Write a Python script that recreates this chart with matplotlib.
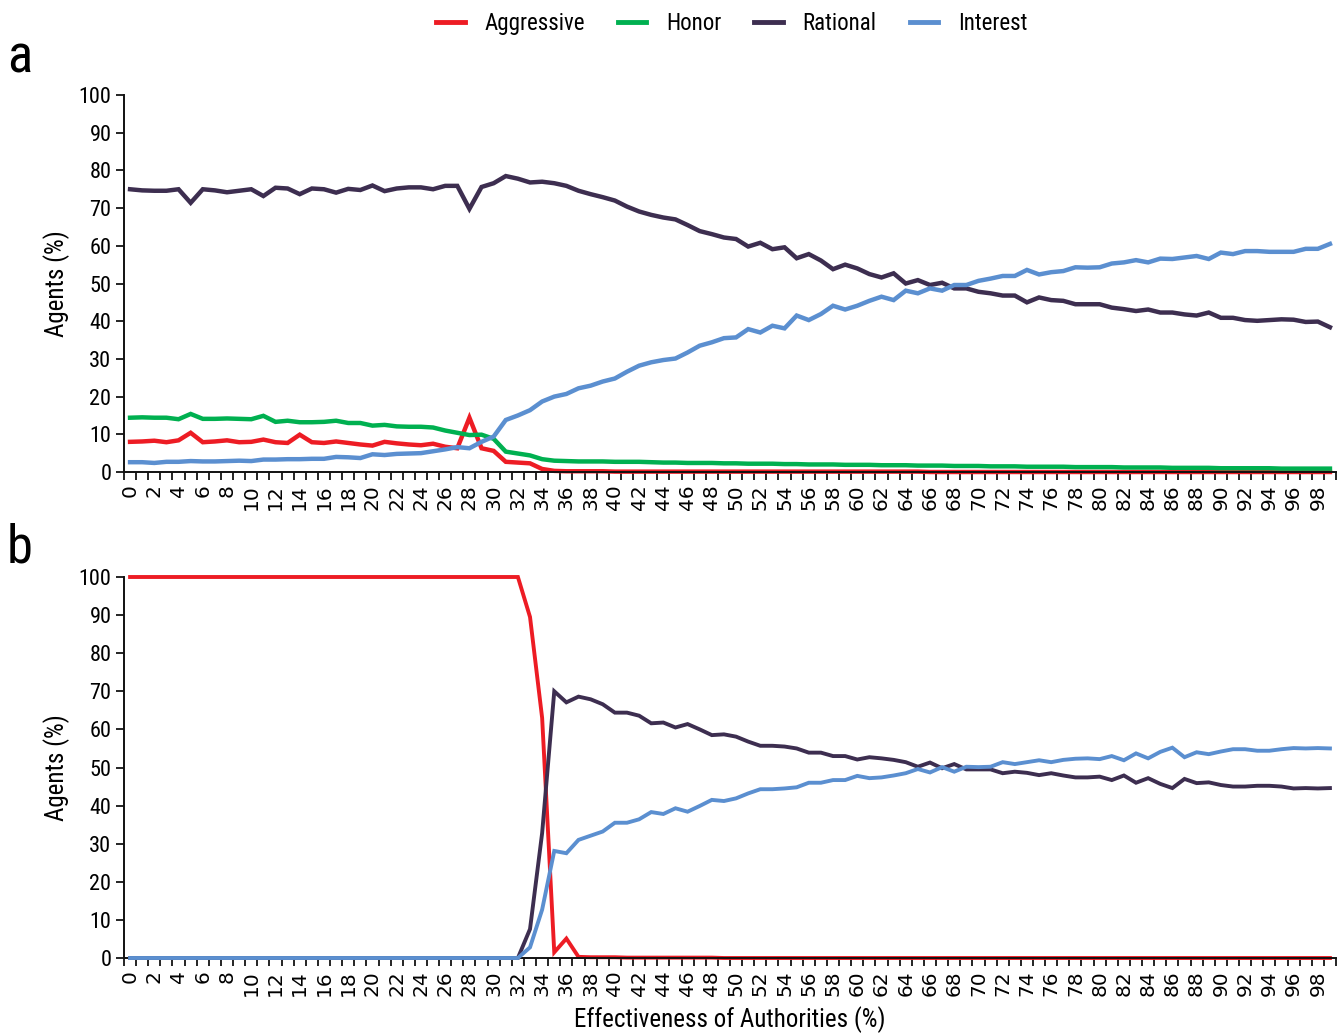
import numpy as np
import matplotlib
matplotlib.use("Agg")
import matplotlib.pyplot as plt
from matplotlib import font_manager as fm
from matplotlib.lines import Line2D
import os

# ---------------- data ----------------
effectiveness = list(range(100))
tick_labels = [str(v) for v in range(0, 100, 2)]
series_names = ["Aggressive", "Honor", "Rational", "Interest"]

a_aggressive = [8.0, 8.1, 8.3, 7.9, 8.4, 10.4, 7.9, 8.1, 8.4, 7.9,
                8.0, 8.6, 7.9, 7.7, 9.9, 7.9, 7.7, 8.1, 7.7, 7.3,
                7.0, 8.0, 7.6, 7.3, 7.1, 7.5, 6.7, 6.3, 14.4, 6.3,
                5.6, 2.7, 2.5, 2.3, 0.8, 0.3, 0.2, 0.2, 0.2, 0.2,
                0.1, 0.1, 0.1, 0.1, 0.1, 0.1, 0.1, 0.1, 0.1, 0.1,
                0.1, 0.1, 0.1, 0.1, 0.1, 0.1, 0.1, 0.1, 0.1, 0.1,
                0.1, 0.1, 0.1, 0.1, 0.1, 0.1, 0.0, 0.0, 0.0, 0.0,
                0.0, 0.0, 0.0, 0.0, 0.0, 0.0, 0.0, 0.0, 0.0, 0.0,
                0.0, 0.0, 0.0, 0.0, 0.0, 0.0, 0.0, 0.0, 0.0, 0.0,
                0.0, 0.0, 0.0, 0.0, 0.0, 0.0, 0.0, 0.0, 0.0, 0.0]
a_honor = [14.4, 14.5, 14.4, 14.4, 14.0, 15.4, 14.1, 14.1, 14.2, 14.1,
           14.0, 14.9, 13.3, 13.6, 13.2, 13.2, 13.3, 13.6, 13.0, 13.0,
           12.3, 12.5, 12.1, 12.0, 12.0, 11.8, 11.0, 10.4, 9.8, 9.9,
           8.8, 5.4, 4.9, 4.4,
           3.4, 3.0, 2.9, 2.8, 2.8, 2.8, 2.7, 2.7, 2.7, 2.6,
           2.5, 2.5, 2.4, 2.4, 2.4, 2.3, 2.3, 2.2, 2.2, 2.2,
           2.1, 2.1, 2.0, 2.0, 2.0, 1.9, 1.9, 1.9, 1.8, 1.8,
           1.8, 1.7, 1.7, 1.7, 1.6, 1.6, 1.6, 1.5, 1.5, 1.5,
           1.4, 1.4, 1.4, 1.4, 1.3, 1.3, 1.3, 1.3, 1.2, 1.2,
           1.2, 1.2, 1.1, 1.1, 1.1, 1.1, 1.0, 1.0, 1.0, 1.0,
           1.0, 0.9, 0.9, 0.9, 0.9, 0.9]
a_rational = [75.0, 74.7, 74.6, 74.6, 75.0, 71.4, 75.0, 74.7, 74.2, 74.6,
              75.0, 73.2, 75.4, 75.2, 73.7, 75.2, 75.0, 74.1, 75.1, 74.8,
              76.0, 74.5, 75.2, 75.5, 75.5, 75.0, 75.9, 75.9, 69.8, 75.6,
              76.6, 78.5, 77.8, 76.8,
              77.0, 76.6, 75.9, 74.6, 73.7, 72.9, 72.0, 70.4, 69.1, 68.2,
              67.5, 67.0, 65.5, 63.9, 63.1, 62.2, 61.8, 59.8, 60.8, 59.1,
              59.6, 56.7, 57.8, 56.1, 53.8, 55.0, 54.0, 52.5, 51.6, 52.7,
              50.0, 50.9, 49.6,
              50.2, 48.7, 48.7, 47.8, 47.4, 46.8, 46.8, 45.0, 46.3, 45.6,
              45.4, 44.5, 44.5, 44.5, 43.6, 43.2, 42.7, 43.1, 42.3, 42.3,
              41.8, 41.5, 42.3, 40.9, 40.9, 40.3, 40.1, 40.3, 40.5, 40.4,
              39.8, 39.9, 38.4]
a_interest = [2.6, 2.6, 2.4, 2.7, 2.7, 2.9, 2.8, 2.8, 2.9, 3.0,
              2.9, 3.3, 3.3, 3.4, 3.4, 3.5, 3.5, 4.0, 3.9, 3.7,
              4.7, 4.5, 4.8, 4.9, 5.0, 5.5, 6.0, 6.6, 6.3, 8.0,
              9.4, 13.8, 15.0, 16.4,
              18.7, 20.0, 20.7, 22.2, 22.9, 24.0, 24.8, 26.6, 28.2, 29.1,
              29.7, 30.1, 31.7, 33.5, 34.4, 35.5, 35.7, 37.9, 37.0, 38.8,
              38.1, 41.5, 40.3, 41.9, 44.1, 43.1, 44.1, 45.4, 46.5, 45.6,
              48.1, 47.4, 48.7,
              48.1, 49.6, 49.6, 50.7, 51.3, 52.0, 52.0, 53.6, 52.4, 53.0,
              53.3, 54.3, 54.2, 54.3, 55.3, 55.6, 56.2, 55.6, 56.6, 56.5,
              56.9, 57.3, 56.5, 58.2, 57.8, 58.6, 58.6, 58.4, 58.4, 58.4,
              59.2, 59.2, 60.5]

# panel b: no Honor agents are present (series not drawn)
b_aggressive = ([100.0] * 33
                + [89.5, 63.0, 1.5, 5.1, 0.3, 0.2, 0.2, 0.2]
                + [0.1] * 8
                + [0.0] * 51)
b_rational = [0.0] * 33 + [7.6, 32.8, 70.0, 67.1, 68.6, 67.9, 66.6, 64.4, 64.4, 63.6,
              61.6, 61.8, 60.5, 61.4, 60.0, 58.5, 58.7, 58.1, 56.8, 55.7,
              55.7, 55.5, 55.0, 53.9, 53.9, 53.0, 53.0, 52.1, 52.7, 52.4,
              52.0, 51.4, 50.2, 51.3,
              49.8, 50.9, 49.5, 49.5, 49.5, 48.5, 48.9, 48.6, 48.0, 48.5,
              47.9, 47.4, 47.4, 47.6, 46.7, 47.9, 46.0, 47.2, 45.7, 44.6,
              47.0, 45.9, 46.1, 45.4, 45.0, 45.0, 45.2, 45.2, 45.0, 44.5,
              44.6, 44.5, 44.6]
b_interest = [0.0] * 33 + [2.8, 12.7, 28.1, 27.5, 31.0, 32.1, 33.2, 35.5, 35.5, 36.4,
              38.3, 37.8, 39.3, 38.4, 39.9, 41.5, 41.2, 41.9, 43.2, 44.3,
              44.3, 44.5, 44.8, 46.0, 46.0, 46.7, 46.7, 47.8, 47.2, 47.4,
              47.9, 48.5, 49.6, 48.7,
              50.1, 48.9, 50.2, 50.1, 50.2, 51.4, 50.9, 51.4, 51.9, 51.4,
              52.0, 52.3, 52.4, 52.2, 53.0, 51.9, 53.7, 52.4, 54.1, 55.2,
              52.7, 54.0, 53.5, 54.2, 54.8, 54.8, 54.4, 54.4, 54.8, 55.1,
              55.0, 55.1, 55.0]

colors = {"Aggressive": "#ED1C24", "Honor": "#00B050",
          "Rational": "#3D2E50", "Interest": "#5B8FD0"}

# ---------------- fonts ----------------
cond_file = None
prefs = ["liberationsansnarrow-regular", "robotocondensed-regular",
         "opensans-condensedregular", "opensans_condensed-regular",
         "dejavusanscondensed.", "arialnarrow"]
files = [f.fname for f in fm.fontManager.ttflist]
for p in prefs:
    for fn in files:
        if p in os.path.basename(fn).lower().replace(" ", ""):
            cond_file = fn
            break
    if cond_file:
        break
if cond_file is None:
    import glob
    cands = []
    for pat in ["/usr/share/fonts/**/*Narrow*.ttf", "/usr/share/fonts/**/*Condensed*.ttf",
                "/usr/share/fonts/**/*Condensed*.otf"]:
        cands += sorted(glob.glob(pat, recursive=True))
    cands = [c for c in cands if "Bold" not in c and "Italic" not in c
             and "Oblique" not in c and "Light" not in c and "Semi" not in c
             and "Extra" not in c and "Medium" not in c and "Black" not in c
             and "Thin" not in c]
    if cands:
        cond_file = cands[0]


def fp(size):
    if cond_file:
        return fm.FontProperties(fname=cond_file, size=size)
    return fm.FontProperties(family="Roboto", size=size)


# ---------------- figure ----------------
W, H = 1340, 1033
fig = plt.figure(figsize=(W / 100, H / 100), dpi=100)

ax_a = fig.add_axes([124 / W, 1 - 472 / H, 1212 / W, 377 / H])
ax_b = fig.add_axes([124 / W, 1 - 958 / H, 1212 / W, 381 / H])

panels = [
    (ax_a, {"Aggressive": a_aggressive, "Honor": a_honor,
            "Rational": a_rational, "Interest": a_interest}, 3.2, "a", 58),
    (ax_b, {"Aggressive": b_aggressive,
            "Rational": b_rational, "Interest": b_interest}, 2.8, "b", 548),
]

for ax, data, lw, letter, ly in panels:
    for k, name in enumerate(series_names):
        if name not in data:
            continue
        ax.plot(effectiveness, data[name], color=colors[name], lw=lw,
                solid_joinstyle="miter", clip_on=False, zorder=2 + k)
    ax.set_xlim(-0.5, 99.5)
    ax.set_ylim(0, 100)
    for s in ["top", "right"]:
        ax.spines[s].set_visible(False)
    for s in ["left", "bottom"]:
        ax.spines[s].set_linewidth(1.4)
        ax.spines[s].set_color("#111111")
    ax.set_yticks(range(0, 101, 10))
    ax.set_yticklabels([str(v) for v in range(0, 101, 10)], fontproperties=fp(16))
    ax.tick_params(axis="y", direction="out", length=6, width=1.2, pad=3)
    ax.set_xticks(range(0, 100, 2))
    ax.set_xticklabels(tick_labels, rotation=90, family="DejaVu Sans", fontsize=14.5)
    ax.set_xticks(np.arange(-0.5, 100, 1.0), minor=True)
    ax.tick_params(axis="x", which="major", length=0, pad=9)
    ax.tick_params(axis="x", which="minor", direction="out", length=6, width=1.2)
    ax.set_ylabel("Agents (%)", fontproperties=fp(18), labelpad=6)
    fig.text(7 / W, 1 - ly / H, letter, fontproperties=fp(38), va="center", ha="left")

ax_b.set_xlabel("Effectiveness of Authorities (%)", fontproperties=fp(18), labelpad=7)

handles = [Line2D([0], [0], color=colors[n], lw=3.5) for n in series_names]
fig.legend(handles, series_names, loc="upper center", bbox_to_anchor=(0.546, 1.008),
           ncol=4, frameon=False, handlelength=1.25, columnspacing=1.45,
           handletextpad=0.85, prop=fp(16.5))

fig.savefig("out.png", dpi=100)
